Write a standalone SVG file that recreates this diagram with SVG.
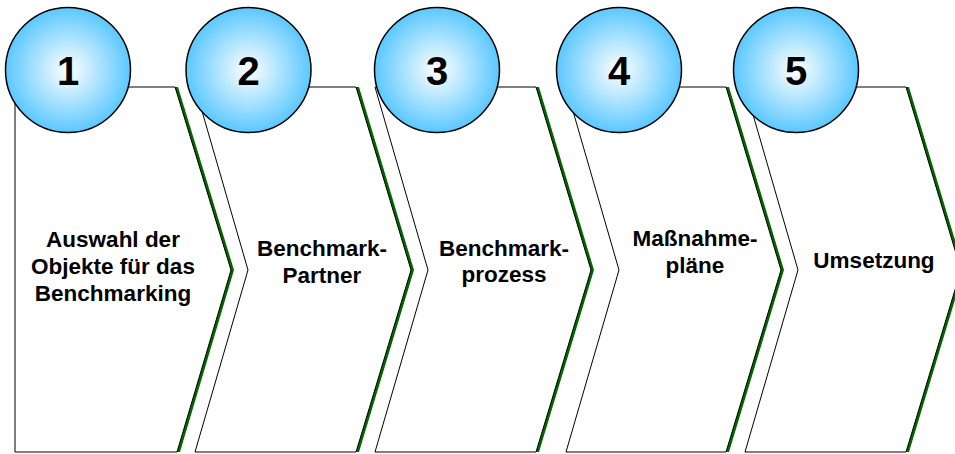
<svg xmlns="http://www.w3.org/2000/svg" width="955" height="454" viewBox="0 0 955 454">
<defs>
<radialGradient id="ball" cx="50%" cy="50%" r="50%">
<stop offset="0" stop-color="#FFFFFF"/>
<stop offset="1" stop-color="#5BC8FF"/>
</radialGradient>
</defs>
<style>
.shadow{fill:#006600;stroke:none}
.chev{fill:#FFFFFF;stroke:#000000;stroke-width:1}
.ball{fill:url(#ball);stroke:#000000;stroke-width:1.5}
.num{font-family:"Liberation Sans",Arial,sans-serif;font-weight:bold;font-size:40px;text-anchor:middle;fill:#000}
.lbl{font-family:"Liberation Sans",Arial,sans-serif;font-weight:bold;font-size:22.5px;text-anchor:middle;fill:#000}
</style>
<g id="step1">
<polygon class="shadow" points="18,87 178,87 234,270 180,452 18,452"/>
<polygon class="chev" points="15,87 175,87 231,270 177,452 15,452"/>
<circle class="ball" cx="68" cy="70" r="62.5"/>
<text class="num" x="68" y="85">1</text>
<text class="lbl" x="113" y="247">Auswahl der</text>
<text class="lbl" x="113" y="274">Objekte für das</text>
<text class="lbl" x="113" y="301">Benchmarking</text>
</g>
<g id="step2">
<polygon class="shadow" points="198,87 359,87 414,270 359,452 198,452 251,270"/>
<polygon class="chev" points="195,87 356,87 411,270 356,452 195,452 248,270"/>
<circle class="ball" cx="248.5" cy="70" r="62.5"/>
<text class="num" x="248.5" y="85">2</text>
<text class="lbl" x="322" y="256">Benchmark-</text>
<text class="lbl" x="322" y="283">Partner</text>
</g>
<g id="step3">
<polygon class="shadow" points="378,87 539,87 594,270 539,452 378,452 431,270"/>
<polygon class="chev" points="375,87 536,87 591,270 536,452 375,452 428,270"/>
<circle class="ball" cx="437" cy="70" r="62.5"/>
<text class="num" x="437" y="85">3</text>
<text class="lbl" x="504" y="256">Benchmark-</text>
<text class="lbl" x="504" y="282">prozess</text>
</g>
<g id="step4">
<polygon class="shadow" points="569,87 729,87 784,270 729,452 569,452 622,270"/>
<polygon class="chev" points="566,87 726,87 781,270 726,452 566,452 619,270"/>
<circle class="ball" cx="619" cy="70" r="62.5"/>
<text class="num" x="619" y="85">4</text>
<text class="lbl" x="695" y="246">Maßnahme-</text>
<text class="lbl" x="695" y="273">pläne</text>
</g>
<g id="step5">
<polygon class="shadow" points="748,87 909,87 964,270 909,452 748,452 801,270"/>
<polygon class="chev" points="745,87 906,87 961,270 906,452 745,452 798,270"/>
<circle class="ball" cx="796" cy="70" r="62.5"/>
<text class="num" x="796" y="85">5</text>
<text class="lbl" x="874" y="268">Umsetzung</text>
</g>
<g id="connectors"/>
</svg>
